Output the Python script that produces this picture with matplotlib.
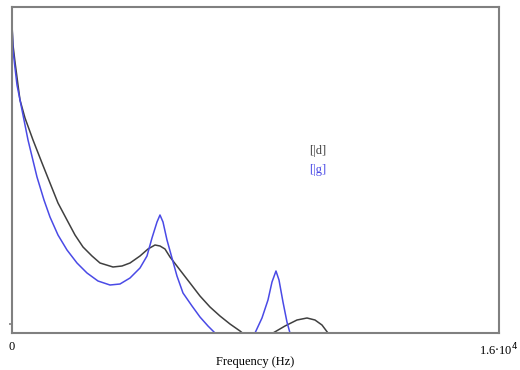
import numpy as np
from matplotlib import pyplot as plt

# frequency (Hz) and amplitude (arbitrary units)
freq_d = [0, 33, 99, 197, 263, 427, 690, 986, 1248, 1511, 1807, 2070, 2333, 2628,
          2891, 3318, 3614, 3877, 4205, 4468, 4698, 4862, 5026, 5191, 5519, 5848,
          6176, 6505, 6833, 7162, 7491, 7688]
amp_d = [308, 288, 271, 248, 233, 215, 193, 170, 150, 130, 113, 98, 86, 77,
         70, 66, 67, 70, 77, 84, 88, 87, 84, 76, 63, 50,
         37, 26, 17, 9, 2, -3]
freq_d2 = [8410, 8575, 8969, 9363, 9692, 9954, 10184, 10381, 10447]
amp_d2 = [-3, 0, 7, 13, 15, 13, 8, 0, -3]

freq_g = [0, 33, 99, 164, 263, 526, 821, 1051, 1248, 1511, 1807, 2135, 2464, 2825,
          3219, 3548, 3877, 4205, 4435, 4599, 4764, 4862, 4961, 5092, 5256, 5420,
          5618, 5914, 6176, 6439, 6669, 6768]
amp_g = [308, 283, 265, 248, 233, 193, 156, 133, 116, 98, 83, 70, 60, 52,
         48, 49, 55, 65, 77, 95, 111, 118, 111, 93, 75, 57,
         40, 27, 16, 7, 0, -4]
freq_g2 = [7918, 7984, 8213, 8410, 8542, 8673, 8772, 8903, 9034, 9133, 9166]
amp_g2 = [-4, 0, 15, 33, 51, 62, 53, 31, 11, 0, -4]

plt.rcParams['font.family'] = ['Liberation Serif', 'DejaVu Serif']

fig = plt.figure(figsize=(5.2, 3.7), dpi=100)
ax = fig.add_axes([12/520, 37/370, 487/520, 326/370])

black = '#404040'
blue = '#4a4ae6'
ax.plot(freq_d, amp_d, color=black, lw=1.1)
ax.plot(freq_d2, amp_d2, color=black, lw=1.1)
ax.plot(freq_g, amp_g, color=blue, lw=1.1)
ax.plot(freq_g2, amp_g2, color=blue, lw=1.1)

ax.set_xlim(0, 16000)
ax.set_ylim(0, 326)
for s in ax.spines.values():
    s.set_color('#808080')
    s.set_linewidth(1.5)

ax.set_xticks([0, 16000])
ax.set_xticklabels(['0', r'1.6$\cdot$10$^4$'], fontsize=9)
ax.tick_params(axis='x', length=0, pad=6)
ax.set_yticks([9])
ax.set_yticklabels([''])
ax.tick_params(axis='y', length=2, width=1.2, color='#808080')
fig.text(0.49, 8/370, 'Frequency (Hz)', fontsize=9, ha='center', va='center')

ax.text(0.61, 0.55, '[|d]', transform=ax.transAxes, color=black, fontsize=9)
ax.text(0.61, 0.49, '[|g]', transform=ax.transAxes, color=blue, fontsize=9)

fig.savefig('out.png', dpi=100)
